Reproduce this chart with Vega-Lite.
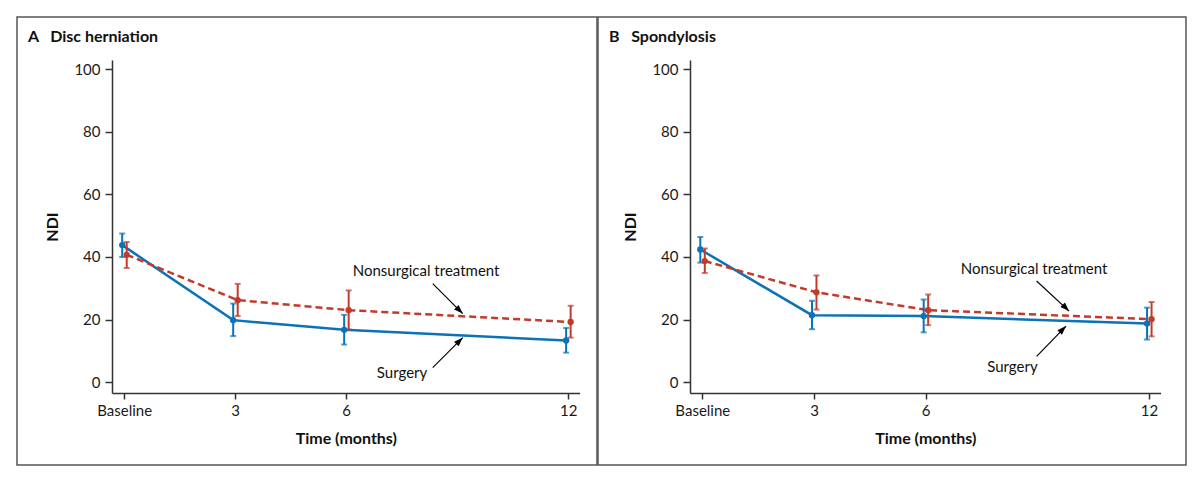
{
  "$schema": "https://vega.github.io/schema/vega-lite/v6.json",
  "padding": {"left": 16, "top": 16, "right": 0, "bottom": 0},
  "background": "white",
  "spacing": -1.5,
  "datasets": {
    "ndi": [
      {"panel": "A", "group": "Surgery", "month": 0, "mean": 43.8, "lo": 40.0, "hi": 47.5},
      {"panel": "A", "group": "Surgery", "month": 3, "mean": 19.8, "lo": 14.7, "hi": 25.1},
      {"panel": "A", "group": "Surgery", "month": 6, "mean": 16.7, "lo": 12.0, "hi": 21.5},
      {"panel": "A", "group": "Surgery", "month": 12, "mean": 13.3, "lo": 9.4, "hi": 17.3},
      {"panel": "A", "group": "Nonsurgical", "month": 0, "mean": 40.7, "lo": 36.5, "hi": 44.8},
      {"panel": "A", "group": "Nonsurgical", "month": 3, "mean": 26.2, "lo": 21.1, "hi": 31.4},
      {"panel": "A", "group": "Nonsurgical", "month": 6, "mean": 23.0, "lo": 16.8, "hi": 29.3},
      {"panel": "A", "group": "Nonsurgical", "month": 12, "mean": 19.2, "lo": 14.2, "hi": 24.4},
      {"panel": "B", "group": "Surgery", "month": 0, "mean": 42.4, "lo": 38.2, "hi": 46.4},
      {"panel": "B", "group": "Surgery", "month": 3, "mean": 21.4, "lo": 16.9, "hi": 26.0},
      {"panel": "B", "group": "Surgery", "month": 6, "mean": 21.1, "lo": 15.9, "hi": 26.4},
      {"panel": "B", "group": "Surgery", "month": 12, "mean": 18.7, "lo": 13.6, "hi": 23.8},
      {"panel": "B", "group": "Nonsurgical", "month": 0, "mean": 38.7, "lo": 34.9, "hi": 42.7},
      {"panel": "B", "group": "Nonsurgical", "month": 3, "mean": 28.7, "lo": 23.2, "hi": 34.1},
      {"panel": "B", "group": "Nonsurgical", "month": 6, "mean": 23.0, "lo": 18.2, "hi": 28.0},
      {"panel": "B", "group": "Nonsurgical", "month": 12, "mean": 20.1, "lo": 14.6, "hi": 25.6}
    ],
    "notes": [
      {"panel": "A", "label": "Nonsurgical treatment", "x": 8.16, "y": 35.5, "tx": 8.34, "ty": 31.5, "hx": 9.15, "hy": 21.9},
      {"panel": "A", "label": "Surgery", "x": 7.51, "y": 3.0, "tx": 8.34, "ty": 4.6, "hx": 9.15, "hy": 14.2},
      {"panel": "B", "label": "Nonsurgical treatment", "x": 8.91, "y": 36.3, "tx": 8.98, "ty": 32.3, "hx": 9.85, "hy": 22.7},
      {"panel": "B", "label": "Surgery", "x": 8.33, "y": 4.8, "tx": 8.98, "ty": 8.2, "hx": 9.77, "hy": 17.9}
    ]
  },
  "hconcat": [
    {
      "width": 580,
      "height": 448,
      "title": {"text": "A\u00a0\u00a0\u00a0Disc herniation", "anchor": "start", "frame": "group", "offset": -28, "dx": 11},
      "layer": [
        {
          "data": {"name": "ndi"},
          "transform": [{"filter": "datum.panel === 'A' && datum.group === 'Surgery'"}],
          "mark": {"type": "line", "color": "#0a72b8", "strokeWidth": 2.5, "xOffset": -2},
          "encoding": {
            "x": {"field": "month", "type": "quantitative",
              "scale": {"domain": [-0.33, 12.31], "range": [95, 562.6], "nice": false, "zero": false},
              "axis": {"values": [0, 3, 6, 12], "labelExpr": "datum.value === 0 ? 'Baseline' : datum.label", "title": "Time (months)", "offset": -72, "grid": false}},
            "y": {"field": "mean", "type": "quantitative",
              "scale": {"domain": [-3.5, 103], "range": [376, 43], "nice": false, "zero": false},
              "axis": {"values": [0, 20, 40, 60, 80, 100], "title": "NDI", "offset": -95, "grid": false}}
          }
        },
        {
          "data": {"name": "ndi"},
          "transform": [{"filter": "datum.panel === 'A' && datum.group === 'Nonsurgical'"}],
          "mark": {"type": "line", "color": "#c23b2a", "strokeWidth": 2.5, "strokeDash": [7, 4], "xOffset": 2.5},
          "encoding": {
            "x": {"field": "month", "type": "quantitative"},
            "y": {"field": "mean", "type": "quantitative"}
          }
        },
        {
          "data": {"name": "ndi"},
          "transform": [{"filter": "datum.panel === 'A' && datum.group === 'Surgery'"}],
          "mark": {"type": "rule", "color": "#0a72b8", "strokeWidth": 2, "xOffset": -2},
          "encoding": {
            "x": {"field": "month", "type": "quantitative"},
            "y": {"field": "lo", "type": "quantitative"},
            "y2": {"field": "hi"}
          }
        },
        {
          "data": {"name": "ndi"},
          "transform": [{"filter": "datum.panel === 'A' && datum.group === 'Surgery'"}],
          "mark": {"type": "tick", "orient": "horizontal", "color": "#0a72b8", "size": 6, "thickness": 2, "xOffset": -2},
          "encoding": {
            "x": {"field": "month", "type": "quantitative"},
            "y": {"field": "lo", "type": "quantitative"}
          }
        },
        {
          "data": {"name": "ndi"},
          "transform": [{"filter": "datum.panel === 'A' && datum.group === 'Surgery'"}],
          "mark": {"type": "tick", "orient": "horizontal", "color": "#0a72b8", "size": 6, "thickness": 2, "xOffset": -2},
          "encoding": {
            "x": {"field": "month", "type": "quantitative"},
            "y": {"field": "hi", "type": "quantitative"}
          }
        },
        {
          "data": {"name": "ndi"},
          "transform": [{"filter": "datum.panel === 'A' && datum.group === 'Nonsurgical'"}],
          "mark": {"type": "rule", "color": "#c23b2a", "strokeWidth": 2, "xOffset": 2.5},
          "encoding": {
            "x": {"field": "month", "type": "quantitative"},
            "y": {"field": "lo", "type": "quantitative"},
            "y2": {"field": "hi"}
          }
        },
        {
          "data": {"name": "ndi"},
          "transform": [{"filter": "datum.panel === 'A' && datum.group === 'Nonsurgical'"}],
          "mark": {"type": "tick", "orient": "horizontal", "color": "#c23b2a", "size": 6, "thickness": 2, "xOffset": 2.5},
          "encoding": {
            "x": {"field": "month", "type": "quantitative"},
            "y": {"field": "lo", "type": "quantitative"}
          }
        },
        {
          "data": {"name": "ndi"},
          "transform": [{"filter": "datum.panel === 'A' && datum.group === 'Nonsurgical'"}],
          "mark": {"type": "tick", "orient": "horizontal", "color": "#c23b2a", "size": 6, "thickness": 2, "xOffset": 2.5},
          "encoding": {
            "x": {"field": "month", "type": "quantitative"},
            "y": {"field": "hi", "type": "quantitative"}
          }
        },
        {
          "data": {"name": "ndi"},
          "transform": [{"filter": "datum.panel === 'A' && datum.group === 'Surgery'"}],
          "mark": {"type": "point", "filled": true, "opacity": 1, "color": "#0a72b8", "size": 40, "xOffset": -2},
          "encoding": {
            "x": {"field": "month", "type": "quantitative"},
            "y": {"field": "mean", "type": "quantitative"}
          }
        },
        {
          "data": {"name": "ndi"},
          "transform": [{"filter": "datum.panel === 'A' && datum.group === 'Nonsurgical'"}],
          "mark": {"type": "point", "filled": true, "opacity": 1, "color": "#c23b2a", "size": 40, "xOffset": 2.5},
          "encoding": {
            "x": {"field": "month", "type": "quantitative"},
            "y": {"field": "mean", "type": "quantitative"}
          }
        },
        {
          "data": {"name": "notes"},
          "transform": [{"filter": "datum.panel === 'A'"}],
          "mark": {"type": "text", "font": "Lato", "fontSize": 15, "color": "#111", "align": "center", "baseline": "middle"},
          "encoding": {
            "x": {"field": "x", "type": "quantitative"},
            "y": {"field": "y", "type": "quantitative"},
            "text": {"field": "label"}
          }
        },
        {
          "data": {"name": "notes"},
          "transform": [{"filter": "datum.panel === 'A'"}],
          "mark": {"type": "rule", "color": "#000", "strokeWidth": 1.2},
          "encoding": {
            "x": {"field": "tx", "type": "quantitative"},
            "y": {"field": "ty", "type": "quantitative"},
            "x2": {"field": "hx"},
            "y2": {"field": "hy"}
          }
        },
        {
          "data": {"name": "notes"},
          "transform": [{"filter": "datum.panel === 'A'"}],
          "mark": {"type": "point", "filled": true, "opacity": 1, "color": "#000", "shape": "M0,0L-0.36,1L0.36,1Z", "size": 324, "strokeWidth": 0},
          "encoding": {
            "x": {"field": "hx", "type": "quantitative"},
            "y": {"field": "hy", "type": "quantitative"},
            "angle": {"condition": {"test": "datum.label === 'Surgery'", "value": 45}, "value": 135}
          }
        }
      ]
    },
    {
      "width": 588,
      "height": 448,
      "title": {"text": "B\u00a0\u00a0\u00a0Spondylosis", "anchor": "start", "frame": "group", "offset": -28, "dx": 11},
      "layer": [
        {
          "data": {"name": "ndi"},
          "transform": [{"filter": "datum.panel === 'B' && datum.group === 'Surgery'"}],
          "mark": {"type": "line", "color": "#0a72b8", "strokeWidth": 2.5, "xOffset": -2},
          "encoding": {
            "x": {"field": "month", "type": "quantitative",
              "scale": {"domain": [-0.33, 12.31], "range": [92, 562.6], "nice": false, "zero": false},
              "axis": {"values": [0, 3, 6, 12], "labelExpr": "datum.value === 0 ? 'Baseline' : datum.label", "title": "Time (months)", "offset": -72, "grid": false}},
            "y": {"field": "mean", "type": "quantitative",
              "scale": {"domain": [-3.5, 103], "range": [376, 43], "nice": false, "zero": false},
              "axis": {"values": [0, 20, 40, 60, 80, 100], "title": "NDI", "offset": -92, "grid": false}}
          }
        },
        {
          "data": {"name": "ndi"},
          "transform": [{"filter": "datum.panel === 'B' && datum.group === 'Nonsurgical'"}],
          "mark": {"type": "line", "color": "#c23b2a", "strokeWidth": 2.5, "strokeDash": [7, 4], "xOffset": 2.5},
          "encoding": {
            "x": {"field": "month", "type": "quantitative"},
            "y": {"field": "mean", "type": "quantitative"}
          }
        },
        {
          "data": {"name": "ndi"},
          "transform": [{"filter": "datum.panel === 'B' && datum.group === 'Surgery'"}],
          "mark": {"type": "rule", "color": "#0a72b8", "strokeWidth": 2, "xOffset": -2},
          "encoding": {
            "x": {"field": "month", "type": "quantitative"},
            "y": {"field": "lo", "type": "quantitative"},
            "y2": {"field": "hi"}
          }
        },
        {
          "data": {"name": "ndi"},
          "transform": [{"filter": "datum.panel === 'B' && datum.group === 'Surgery'"}],
          "mark": {"type": "tick", "orient": "horizontal", "color": "#0a72b8", "size": 6, "thickness": 2, "xOffset": -2},
          "encoding": {
            "x": {"field": "month", "type": "quantitative"},
            "y": {"field": "lo", "type": "quantitative"}
          }
        },
        {
          "data": {"name": "ndi"},
          "transform": [{"filter": "datum.panel === 'B' && datum.group === 'Surgery'"}],
          "mark": {"type": "tick", "orient": "horizontal", "color": "#0a72b8", "size": 6, "thickness": 2, "xOffset": -2},
          "encoding": {
            "x": {"field": "month", "type": "quantitative"},
            "y": {"field": "hi", "type": "quantitative"}
          }
        },
        {
          "data": {"name": "ndi"},
          "transform": [{"filter": "datum.panel === 'B' && datum.group === 'Nonsurgical'"}],
          "mark": {"type": "rule", "color": "#c23b2a", "strokeWidth": 2, "xOffset": 2.5},
          "encoding": {
            "x": {"field": "month", "type": "quantitative"},
            "y": {"field": "lo", "type": "quantitative"},
            "y2": {"field": "hi"}
          }
        },
        {
          "data": {"name": "ndi"},
          "transform": [{"filter": "datum.panel === 'B' && datum.group === 'Nonsurgical'"}],
          "mark": {"type": "tick", "orient": "horizontal", "color": "#c23b2a", "size": 6, "thickness": 2, "xOffset": 2.5},
          "encoding": {
            "x": {"field": "month", "type": "quantitative"},
            "y": {"field": "lo", "type": "quantitative"}
          }
        },
        {
          "data": {"name": "ndi"},
          "transform": [{"filter": "datum.panel === 'B' && datum.group === 'Nonsurgical'"}],
          "mark": {"type": "tick", "orient": "horizontal", "color": "#c23b2a", "size": 6, "thickness": 2, "xOffset": 2.5},
          "encoding": {
            "x": {"field": "month", "type": "quantitative"},
            "y": {"field": "hi", "type": "quantitative"}
          }
        },
        {
          "data": {"name": "ndi"},
          "transform": [{"filter": "datum.panel === 'B' && datum.group === 'Surgery'"}],
          "mark": {"type": "point", "filled": true, "opacity": 1, "color": "#0a72b8", "size": 40, "xOffset": -2},
          "encoding": {
            "x": {"field": "month", "type": "quantitative"},
            "y": {"field": "mean", "type": "quantitative"}
          }
        },
        {
          "data": {"name": "ndi"},
          "transform": [{"filter": "datum.panel === 'B' && datum.group === 'Nonsurgical'"}],
          "mark": {"type": "point", "filled": true, "opacity": 1, "color": "#c23b2a", "size": 40, "xOffset": 2.5},
          "encoding": {
            "x": {"field": "month", "type": "quantitative"},
            "y": {"field": "mean", "type": "quantitative"}
          }
        },
        {
          "data": {"name": "notes"},
          "transform": [{"filter": "datum.panel === 'B'"}],
          "mark": {"type": "text", "font": "Lato", "fontSize": 15, "color": "#111", "align": "center", "baseline": "middle"},
          "encoding": {
            "x": {"field": "x", "type": "quantitative"},
            "y": {"field": "y", "type": "quantitative"},
            "text": {"field": "label"}
          }
        },
        {
          "data": {"name": "notes"},
          "transform": [{"filter": "datum.panel === 'B'"}],
          "mark": {"type": "rule", "color": "#000", "strokeWidth": 1.2},
          "encoding": {
            "x": {"field": "tx", "type": "quantitative"},
            "y": {"field": "ty", "type": "quantitative"},
            "x2": {"field": "hx"},
            "y2": {"field": "hy"}
          }
        },
        {
          "data": {"name": "notes"},
          "transform": [{"filter": "datum.panel === 'B'"}],
          "mark": {"type": "point", "filled": true, "opacity": 1, "color": "#000", "shape": "M0,0L-0.36,1L0.36,1Z", "size": 324, "strokeWidth": 0},
          "encoding": {
            "x": {"field": "hx", "type": "quantitative"},
            "y": {"field": "hy", "type": "quantitative"},
            "angle": {"condition": {"test": "datum.label === 'Surgery'", "value": 45}, "value": 135}
          }
        }
      ]
    }
  ],
  "config": {
    "view": {"stroke": "#555555", "strokeWidth": 1.5},
    "title": {"font": "Lato", "fontSize": 16, "fontWeight": "bold", "color": "#111111"},
    "axis": {
      "domainColor": "#333333", "domainWidth": 1.5, "tickColor": "#333333", "tickWidth": 1.5, "tickSize": 6,
      "labelFont": "Lato", "labelFontSize": 15, "labelColor": "#1a1a1a", "labelPadding": 4,
      "titleFont": "Lato", "titleFontSize": 16, "titleFontWeight": "bold", "titleColor": "#111111"
    },
    "axisY": {"tickSize": 7, "labelPadding": 5, "titlePadding": 13},
    "axisX": {"titlePadding": 12}
  }
}
